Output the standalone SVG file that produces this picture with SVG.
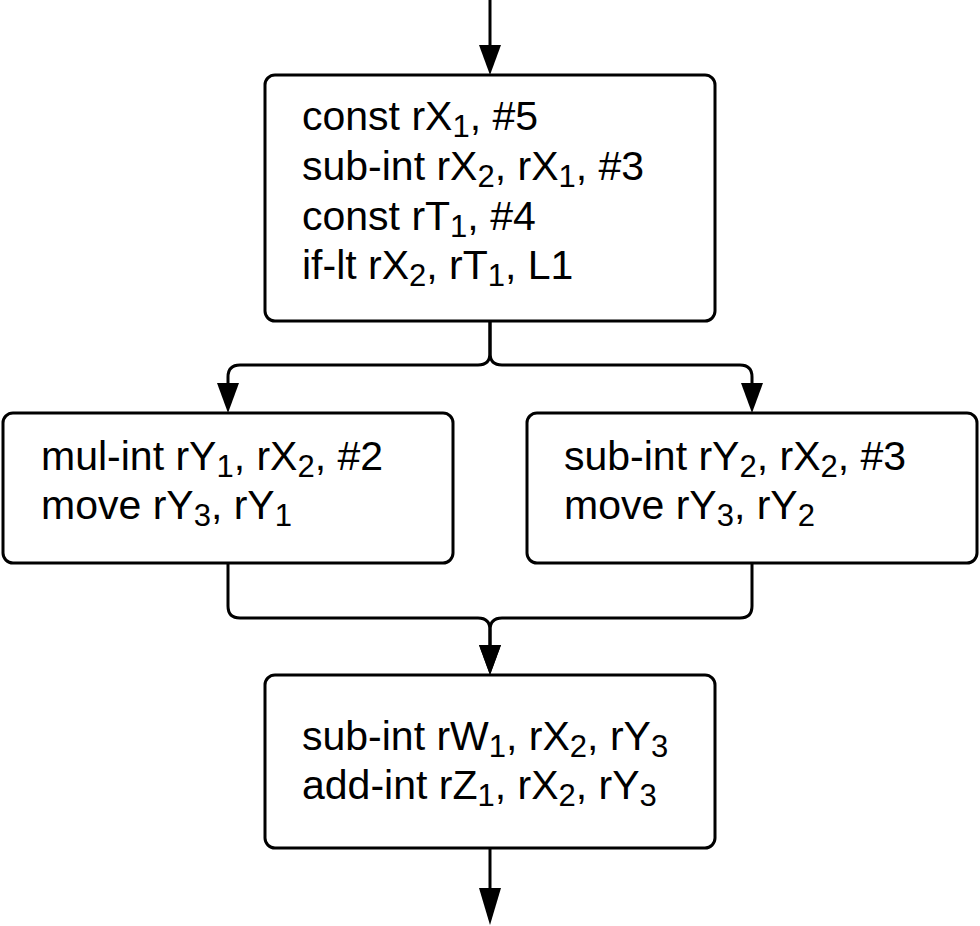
<svg xmlns="http://www.w3.org/2000/svg" width="980" height="926" viewBox="0 0 980 926">
<style>
.box{fill:#fff;stroke:#000;stroke-width:3}
.t{font-family:"Liberation Sans",Arial,sans-serif;font-size:41px;fill:#000}
.s{font-size:31px}
.c{fill:none;stroke:#000;stroke-width:3}
</style>
<defs>
<marker id="ah" markerUnits="userSpaceOnUse" markerWidth="32" markerHeight="24" refX="20" refY="11" orient="auto" viewBox="0 0 32 24">
<path d="M0,0 L30,11 L0,22 z" fill="#000"/>
</marker>
<marker id="ahl" markerUnits="userSpaceOnUse" markerWidth="40" markerHeight="24" refX="27" refY="11" orient="auto" viewBox="0 0 40 24">
<path d="M0,0 L37,11 L0,22 z" fill="#000"/>
</marker>
</defs>
<rect width="980" height="926" fill="#fff"/>
<g id="connectors">
<path class="c" d="M490,0 V65" marker-end="url(#ah)"/>
<path class="c" d="M490,321 V353 Q490,365 478,365 H240 Q228,365 228,377 V403" marker-end="url(#ah)"/>
<path class="c" d="M490,321 V353 Q490,365 502,365 H740 Q752,365 752,377 V403" marker-end="url(#ah)"/>
<path class="c" d="M228,563 V606 Q228,618 240,618 H478 Q490,618 490,630 V665" marker-end="url(#ah)"/>
<path class="c" d="M752,563 V606 Q752,618 740,618 H502 Q490,618 490,630 V665" marker-end="url(#ah)"/>
<path class="c" d="M490,848 V915" marker-end="url(#ahl)"/>
</g>
<g id="node-top">
<rect class="box" x="265" y="75" width="450" height="246" rx="10"/>
<text class="t" x="302" y="130">const rX<tspan class="s" dy="7">1</tspan><tspan dy="-7">, #5</tspan></text>
<text class="t" x="302" y="180">sub-int rX<tspan class="s" dy="7">2</tspan><tspan dy="-7">, rX</tspan><tspan class="s" dy="7">1</tspan><tspan dy="-7">, #3</tspan></text>
<text class="t" x="302" y="230">const rT<tspan class="s" dy="7">1</tspan><tspan dy="-7">, #4</tspan></text>
<text class="t" x="302" y="279">if-lt rX<tspan class="s" dy="7">2</tspan><tspan dy="-7">, rT</tspan><tspan class="s" dy="7">1</tspan><tspan dy="-7">, L1</tspan></text>
</g>
<g id="node-left">
<rect class="box" x="3" y="413" width="450" height="150" rx="10"/>
<text class="t" x="41" y="470">mul-int rY<tspan class="s" dy="7">1</tspan><tspan dy="-7">, rX</tspan><tspan class="s" dy="7">2</tspan><tspan dy="-7">, #2</tspan></text>
<text class="t" x="41" y="519">move rY<tspan class="s" dy="7">3</tspan><tspan dy="-7">, rY</tspan><tspan class="s" dy="7">1</tspan></text>
</g>
<g id="node-right">
<rect class="box" x="527" y="413" width="450" height="150" rx="10"/>
<text class="t" x="564" y="470">sub-int rY<tspan class="s" dy="7">2</tspan><tspan dy="-7">, rX</tspan><tspan class="s" dy="7">2</tspan><tspan dy="-7">, #3</tspan></text>
<text class="t" x="564" y="519">move rY<tspan class="s" dy="7">3</tspan><tspan dy="-7">, rY</tspan><tspan class="s" dy="7">2</tspan></text>
</g>
<g id="node-bottom">
<rect class="box" x="265" y="675" width="450" height="173" rx="10"/>
<text class="t" x="302" y="750">sub-int rW<tspan class="s" dy="7">1</tspan><tspan dy="-7">, rX</tspan><tspan class="s" dy="7">2</tspan><tspan dy="-7">, rY</tspan><tspan class="s" dy="7">3</tspan></text>
<text class="t" x="302" y="799">add-int rZ<tspan class="s" dy="7">1</tspan><tspan dy="-7">, rX</tspan><tspan class="s" dy="7">2</tspan><tspan dy="-7">, rY</tspan><tspan class="s" dy="7">3</tspan></text>
</g>
</svg>
